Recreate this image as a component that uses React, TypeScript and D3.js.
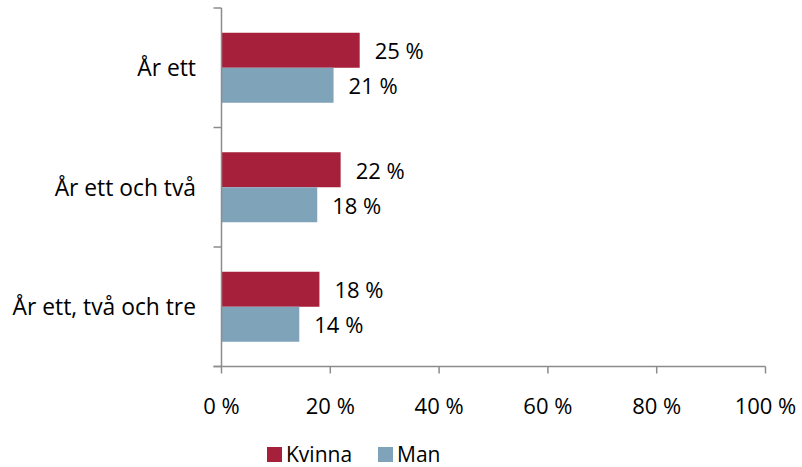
import React from "react";
import * as d3 from "d3";

const categories = ["År ett", "År ett och två", "År ett, två och tre"];
const kvinna = [25.4, 21.9, 18.0];
const man = [20.6, 17.6, 14.3];
const xTicks = [0, 20, 40, 60, 80, 100];
const seriesNames = ["Kvinna", "Man"];
const colors = ["#A6203B", "#7FA3B9"];

export default function App() {
  const W = 802, H = 467;
  const x0 = 221.5, x1 = 765.5;
  const yTop = 8, yBot = 366.5;
  const x = d3.scaleLinear().domain([0, 100]).range([x0, x1]);
  const y = d3.scaleBand<string>().domain(categories).range([yTop, yBot]).paddingInner(0).paddingOuter(0);
  const bw = y.bandwidth();
  const barH = 35;
  const font = "'Open Sans', sans-serif";
  const fs = 22;
  const series = [kvinna, man];
  const axisColor = "#8c8c8c";
  return (
    <svg width={W} height={H} style={{ position: "absolute", left: 0, top: 0, background: "#fff" }}>
      {categories.map((c, i) => {
        const center = (y(c) as number) + bw / 2;
        return (
          <g key={c}>
            {series.map((s, j) => {
              const top = center - barH + j * barH;
              return (
                <g key={j}>
                  <rect x={x(0)} y={top} width={x(s[i]) - x(0)} height={barH} fill={colors[j]} />
                  <text x={x(s[i]) + 15} y={top + barH / 2} dominantBaseline="central" fontSize={fs} fontFamily={font} fill="#000">
                    {`${Math.round(s[i])} %`}
                  </text>
                </g>
              );
            })}
            <text x={196} y={center} textAnchor="end" dominantBaseline="central" fontSize={fs + 0.8} fontFamily={font} fill="#000">
              {c}
            </text>
          </g>
        );
      })}
      <line x1={x0} x2={x0} y1={yTop} y2={yBot} stroke={axisColor} strokeWidth={1.5} />
      {[...categories.map((c) => y(c) as number), yBot].map((v, i) => (
        <line key={i} x1={x0 - 8} x2={x0} y1={v} y2={v} stroke={axisColor} strokeWidth={1.5} />
      ))}
      <line x1={x0 - 8} x2={x1} y1={yBot} y2={yBot} stroke={axisColor} strokeWidth={1.5} />
      {xTicks.map((t) => (
        <g key={t}>
          <line x1={x(t)} x2={x(t)} y1={yBot} y2={yBot + 7} stroke={axisColor} strokeWidth={1.5} />
          <text x={x(t)} y={405} textAnchor="middle" dominantBaseline="central" fontSize={fs} fontFamily={font} fill="#000">
            {`${t} %`}
          </text>
        </g>
      ))}
      {seriesNames.map((n, j) => {
        const lx = [267, 378][j];
        return (
          <g key={n}>
            <rect x={lx} y={447} width={15} height={15} fill={colors[j]} />
            <text x={lx + 19} y={462} fontSize={21} fontFamily={font} fill="#000">
              {n}
            </text>
          </g>
        );
      })}
    </svg>
  );
}
